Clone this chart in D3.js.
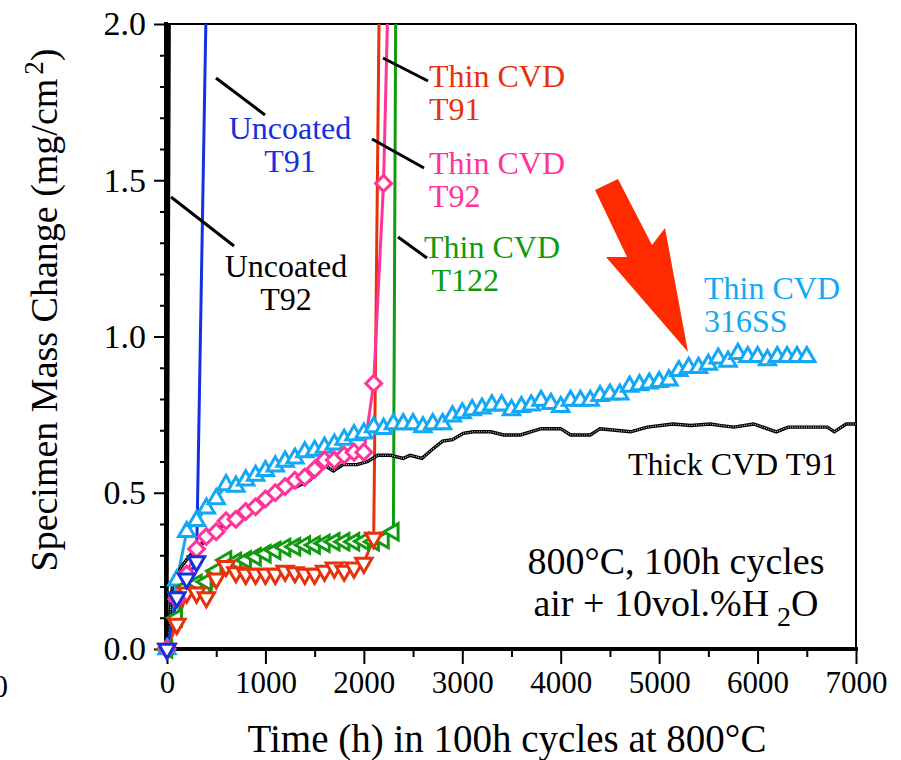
<!DOCTYPE html>
<html>
<head>
<meta charset="utf-8">
<script src="https://cdn.jsdelivr.net/npm/d3@7"></script>
<style>
  body { margin: 0; background: #fff; }
  svg { display: block; font-family: "Liberation Serif", "Times New Roman", serif; }
</style>
</head>
<body>
<div id="chart"></div>
<script>
// values, [hours, mg/cm2]
const uncoatedT92 = [[0, 0], [30, 2.5]];
const uncoatedT91 = [[0, 0], [100, 0.165], [200, 0.225], [300, 0.28], [400, 2.1]];
const thinT91 = [[0, 0], [100, 0.08], [200, 0.18], [300, 0.18], [400, 0.165], [500, 0.225], [600, 0.265],
  [700, 0.245], [800, 0.24], [900, 0.24], [1000, 0.24], [1100, 0.24], [1200, 0.25], [1300, 0.245],
  [1400, 0.24], [1500, 0.24], [1600, 0.25], [1700, 0.26], [1800, 0.25], [1900, 0.26], [2000, 0.275],
  [2100, 0.355], [2200, 3.4]];
const thinT92 = [[0, 0], [100, 0.16], [200, 0.24], [300, 0.32], [400, 0.36], [500, 0.375], [600, 0.41],
  [700, 0.415], [800, 0.44], [900, 0.455], [1000, 0.48], [1100, 0.5], [1200, 0.52], [1300, 0.54],
  [1400, 0.55], [1500, 0.575], [1600, 0.605], [1700, 0.605], [1800, 0.62], [1900, 0.63], [2000, 0.63],
  [2100, 0.85], [2200, 1.49], [2300, 2.8]];
const thinT122 = [[0, 0], [100, 0.1], [200, 0.2], [300, 0.21], [400, 0.215], [500, 0.25], [600, 0.285],
  [700, 0.28], [800, 0.285], [900, 0.295], [1000, 0.305], [1100, 0.315], [1200, 0.325], [1300, 0.327],
  [1400, 0.333], [1500, 0.333], [1600, 0.338], [1700, 0.343], [1800, 0.343], [1900, 0.343], [2000, 0.345],
  [2100, 0.343], [2200, 0.35], [2300, 0.375], [2340, 3.2]];
const thin316 = [[0, 0], [100, 0.22], [200, 0.375], [300, 0.41], [400, 0.45], [500, 0.48], [600, 0.525],
  [700, 0.52], [800, 0.54], [900, 0.555], [1000, 0.57], [1100, 0.585], [1200, 0.6], [1300, 0.61],
  [1400, 0.63], [1500, 0.635], [1600, 0.645], [1700, 0.655], [1800, 0.67], [1900, 0.685], [2000, 0.69],
  [2100, 0.71], [2200, 0.705], [2300, 0.72], [2400, 0.72], [2500, 0.72], [2600, 0.71], [2700, 0.72],
  [2800, 0.72], [2900, 0.745], [3000, 0.755], [3100, 0.765], [3200, 0.77], [3300, 0.78], [3400, 0.78],
  [3500, 0.765], [3600, 0.775], [3700, 0.78], [3800, 0.795], [3900, 0.785], [4000, 0.775], [4100, 0.795],
  [4200, 0.795], [4300, 0.795], [4400, 0.81], [4500, 0.815], [4600, 0.815], [4700, 0.84], [4800, 0.845],
  [4900, 0.85], [5000, 0.855], [5100, 0.86], [5200, 0.89], [5300, 0.9], [5400, 0.9], [5500, 0.91],
  [5600, 0.93], [5700, 0.92], [5800, 0.945], [5900, 0.935], [6000, 0.935], [6100, 0.925], [6200, 0.935],
  [6300, 0.935], [6400, 0.935], [6500, 0.935]];
const thickT91 = [[0, 0], [60, 0.22], [160, 0.27], [260, 0.31], [370, 0.34], [500, 0.38], [640, 0.41],
  [770, 0.44], [920, 0.47], [1050, 0.49], [1180, 0.515], [1320, 0.52], [1450, 0.54], [1590, 0.59],
  [1690, 0.57], [1790, 0.59], [1930, 0.59], [2040, 0.6], [2140, 0.62], [2270, 0.62], [2400, 0.61],
  [2470, 0.62], [2590, 0.61], [2700, 0.64], [2800, 0.665], [2900, 0.67], [3010, 0.69], [3110, 0.695],
  [3290, 0.695], [3420, 0.685], [3590, 0.685], [3800, 0.705], [4000, 0.705], [4100, 0.685], [4300, 0.685],
  [4400, 0.705], [4710, 0.695], [4880, 0.71], [5140, 0.72], [5320, 0.715], [5520, 0.72], [5630, 0.715],
  [5760, 0.71], [5960, 0.72], [6190, 0.695], [6310, 0.71], [6710, 0.71], [6780, 0.695], [6900, 0.72],
  [7000, 0.72]];

const xTicks = [0, 1000, 2000, 3000, 4000, 5000, 6000, 7000];
const xMinor = [500, 1500, 2500, 3500, 4500, 5500, 6500];
const yTicks = [0, 0.5, 1.0, 1.5, 2.0];
const yMinor = [0.1, 0.2, 0.3, 0.4, 0.6, 0.7, 0.8, 0.9, 1.1, 1.2, 1.3, 1.4, 1.6, 1.7, 1.8, 1.9];

const width = 901, height = 760;

const x = d3.scaleLinear().domain([0, 7000]).range([167, 856]);
const y = d3.scaleLinear().domain([0, 2]).range([649, 24]);

const svg = d3.select("#chart").append("svg")
    .attr("width", width)
    .attr("height", height)
    .attr("viewBox", [0, 0, width, height]);

svg.append("defs").append("clipPath").attr("id", "clip")
    .append("rect").attr("x", 0).attr("y", 24).attr("width", 856).attr("height", 700);

// frame top / right
svg.append("line").attr("x1", 166).attr("x2", 856).attr("y1", 24).attr("y2", 24)
    .attr("stroke", "#000").attr("stroke-width", 2);
svg.append("line").attr("x1", 856).attr("x2", 856).attr("y1", 24).attr("y2", 649)
    .attr("stroke", "#000").attr("stroke-width", 2);

// axes
svg.append("g").attr("transform", "translate(166,0)")
    .call(d3.axisLeft(y).tickValues(yTicks).tickFormat(d3.format(".1f"))
        .tickSizeInner(12).tickSizeOuter(0).tickPadding(8))
    .selectAll(".tick text").style("font-size", "34px");
svg.append("g").attr("transform", "translate(166,0)")
    .call(d3.axisLeft(y).tickValues(yMinor).tickFormat("").tickSizeInner(6).tickSizeOuter(0));

svg.append("g").attr("transform", "translate(0,649)")
    .call(d3.axisBottom(x).tickValues(xTicks).tickFormat(d3.format("d"))
        .tickSizeInner(15).tickSizeOuter(0).tickPadding(7))
    .selectAll(".tick text").style("font-size", "31px");
svg.append("g").attr("transform", "translate(0,649)")
    .call(d3.axisBottom(x).tickValues(xMinor).tickFormat("").tickSizeInner(8).tickSizeOuter(0));

svg.selectAll(".domain").remove();
svg.selectAll(".tick line").attr("stroke", "#000").attr("stroke-width", 2);
svg.selectAll(".tick text").attr("fill", "#000")
    .style("font-family", "'Liberation Serif', serif");

// clipped "0" at far left edge
svg.append("text").attr("x", 8).attr("y", 697).attr("text-anchor", "end")
    .style("font-size", "31px").text("0");

svg.append("line").attr("x1", 166).attr("x2", 166).attr("y1", 22).attr("y2", 651)
    .attr("stroke", "#000").attr("stroke-width", 4);
svg.append("line").attr("x1", 164).attr("x2", 858).attr("y1", 649).attr("y2", 649)
    .attr("stroke", "#000").attr("stroke-width", 4);

// axis titles
svg.append("text")
    .attr("transform", "translate(57,310) rotate(-90)")
    .attr("text-anchor", "middle")
    .style("font-size", "38px")
    .html('Specimen Mass Change (mg/cm<tspan dx="4" dy="-14" font-size="27">2</tspan><tspan dy="14">)</tspan>');

svg.append("text")
    .attr("x", 507).attr("y", 752)
    .attr("text-anchor", "middle")
    .style("font-size", "39px")
    .text("Time (h) in 100h cycles at 800°C");

const line = d3.line().x(d => x(d[0])).y(d => y(d[1]));
const plot = svg.append("g");
const lines = plot.append("g").attr("clip-path", "url(#clip)");

function drawSeries(data, color, shape, size, rot) {
    lines.append("path").datum(data)
        .attr("fill", "none").attr("stroke", color).attr("stroke-width", 3)
        .attr("stroke-linejoin", "round")
        .attr("d", line);
    if (!shape) return;
    plot.append("g").selectAll("path")
        .data(data.filter(d => d[1] <= 2))
        .join("path")
        .attr("transform", d => `translate(${x(d[0])},${y(d[1])}) rotate(${rot})`)
        .attr("d", d3.symbol().type(shape).size(size))
        .attr("fill", "#fff")
        .attr("stroke", color)
        .attr("stroke-width", 3);
}

drawSeries(thin316, "#12A8F5", d3.symbolTriangle, 115, 0);
drawSeries(thinT122, "#109A10", d3.symbolTriangle, 115, -90);
drawSeries(thinT91, "#E8300A", d3.symbolTriangle, 115, 180);
drawSeries(thinT92, "#FF3399", d3.symbolSquare, 125, 45);

// thick CVD T91: stippled black line
lines.append("path").datum(thickT91)
    .attr("fill", "none").attr("stroke", "#000").attr("stroke-width", 3.4).attr("d", line);
lines.append("path").datum(thickT91)
    .attr("fill", "none").attr("stroke", "#fff").attr("stroke-width", 1.1)
    .attr("stroke-dasharray", "1,1.3").attr("opacity", 0.85).attr("d", line);

lines.append("path").datum(uncoatedT92)
    .attr("fill", "none").attr("stroke", "#000").attr("stroke-width", 3).attr("d", line);

drawSeries(uncoatedT91, "#1530E0", d3.symbolTriangle, 115, 180);

// leader lines
const leaders = [
    [216, 78, 265, 115], [171, 197, 234, 246], [383, 58, 428, 81],
    [372, 139, 424, 168], [398, 237, 427, 258]
];
svg.append("g").selectAll("line").data(leaders).join("line")
    .attr("x1", d => d[0]).attr("y1", d => d[1]).attr("x2", d => d[2]).attr("y2", d => d[3])
    .attr("stroke", "#000").attr("stroke-width", 3);

// labels
const labels = [
    {t: ["Uncoated", "T91"], x: 290, y: 139, c: "#1530E0", a: "middle"},
    {t: ["Uncoated", "T92"], x: 286, y: 277, c: "#000", a: "middle"},
    {t: ["Thin CVD", "T91"], x: 429, y: 87, c: "#E8300A", a: "start"},
    {t: ["Thin CVD", "T92"], x: 429, y: 174, c: "#FF3399", a: "start"},
    {t: ["Thin CVD", " T122"], x: 424, y: 258, c: "#109A10", a: "start"},
    {t: ["Thin CVD", "316SS"], x: 704, y: 299, c: "#12A8F5", a: "start"}
];
labels.forEach(l => {
    const tx = svg.append("text").attr("x", l.x).attr("y", l.y)
        .attr("fill", l.c).attr("text-anchor", l.a).style("font-size", "32px")
        .attr("xml:space", "preserve");
    tx.append("tspan").attr("x", l.x).text(l.t[0]);
    tx.append("tspan").attr("x", l.x).attr("dy", 33).text(l.t[1]);
});

svg.append("text").attr("x", 628).attr("y", 475).style("font-size", "32px").text("Thick CVD T91");

svg.append("text").attr("x", 676).attr("y", 574).attr("text-anchor", "middle")
    .style("font-size", "38px").text("800°C, 100h cycles");
svg.append("text").attr("x", 676).attr("y", 616).attr("text-anchor", "middle")
    .style("font-size", "38px")
    .html('air + 10vol.%H<tspan dx="8" dy="10" font-size="28">2</tspan><tspan dy="-10">O</tspan>');

// red arrow
const arrow = [[595, 190], [618, 179], [652, 245], [665, 228], [688, 352], [606, 257], [627, 257]];
svg.append("path")
    .attr("d", d3.line()(arrow) + "Z")
    .attr("fill", "#FF2A00");
</script>
</body>
</html>
